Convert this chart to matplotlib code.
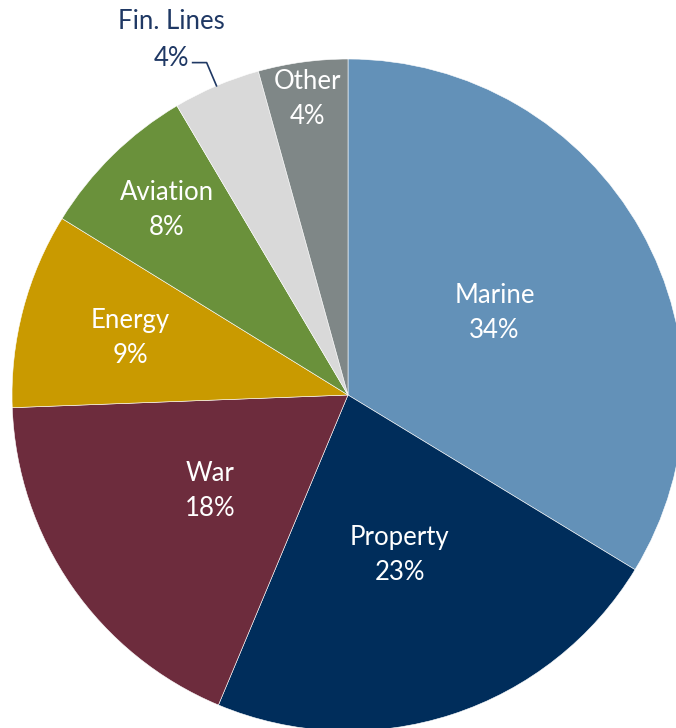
import numpy as np
import matplotlib
matplotlib.use("Agg")
import matplotlib.pyplot as plt

# line of business split (share of total, %)
segments = ['Marine', 'Property', 'War', 'Energy', 'Aviation', 'Fin. Lines', 'Other']
shares = [33.7, 22.6, 18.1, 9.4, 7.7, 4.2, 4.3]
colors = ['#6391B8', '#002D5B', '#6D2C3D', '#C99A00', '#6A913B', '#D9D9D9', '#7F8787']
# radial position of the inside labels (fraction of radius), None = outside label
label_dist = [0.5, 0.5, 0.5, 0.67, 0.77, None, 0.89]

plt.rcParams['font.family'] = ['Lato', 'DejaVu Sans']

W, H = 676, 728
fig = plt.figure(figsize=(W / 100, H / 100), dpi=100)
ax = fig.add_axes([0, 0, 1, 1])

cx, cy, R = 348, H - 395, 336
wedges, _ = ax.pie(shares, colors=colors, startangle=90, counterclock=False,
                   center=(cx, cy), radius=R, frame=True,
                   wedgeprops=dict(edgecolor='white', linewidth=0.4))
ax.set_xlim(0, W)
ax.set_ylim(0, H)
ax.set_aspect('equal')
ax.axis('off')

for w, name, val, d in zip(wedges, segments, shares, label_dist):
    mid = np.deg2rad((w.theta1 + w.theta2) / 2)
    txt = '%s\n%d%%' % (name, round(val))
    if d is not None:
        ax.text(cx + d * R * np.cos(mid), cy + d * R * np.sin(mid), txt,
                color='white', fontsize=18.5, ha='center', va='center',
                linespacing=1.5)
    else:
        # outside label with elbow leader line
        ex, ey = cx + R * np.cos(mid), cy + R * np.sin(mid)
        kx, ky = cx + 1.075 * R * np.cos(mid), cy + 1.075 * R * np.sin(mid)
        ax.plot([kx - 14, kx, ex], [ky, ky, ey], color='#1F3864', lw=1.2)
        ax.text(kx - 35, ky + 23, txt, color='#1F3864', fontsize=18.5,
                ha='center', va='center', linespacing=1.6)

fig.savefig('out.png', dpi=100)
